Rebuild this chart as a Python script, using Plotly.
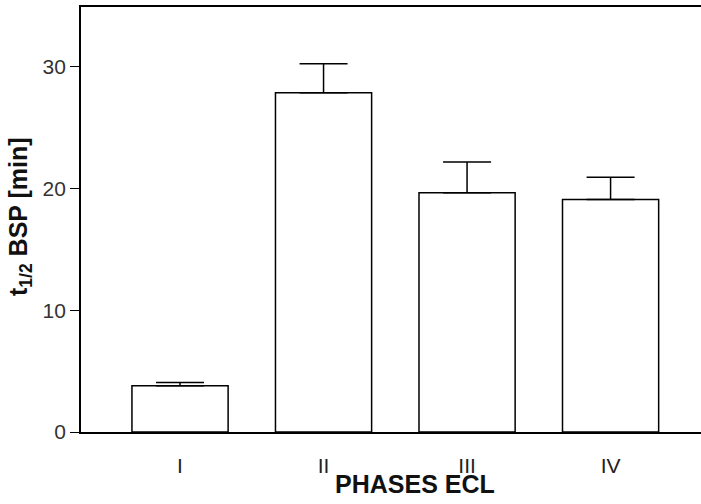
import plotly.graph_objects as go

phases = ["I", "II", "III", "IV"]
t_half = [3.8, 27.85, 19.65, 19.1]
err_up = [0.27, 2.38, 2.52, 1.82]
y_ticks = [0, 10, 20, 30]

W, H = 701, 504
ML, MR, MT, MB = 81, 0, 7, 72
pw = W - ML - MR
ph = H - MT - MB

title_font = dict(family="Liberation Sans, Arial", size=25, color="#111")

fig = go.Figure()
fig.add_trace(go.Bar(
    x=phases, y=t_half, width=0.67,
    marker=dict(color="white", line=dict(color="black", width=1.5)),
    error_y=dict(type="data", symmetric=False, array=err_up,
                 arrayminus=[0] * len(err_up), color="black",
                 thickness=1.5, width=24),
    showlegend=False,
))

fig.update_layout(
    width=W, height=H,
    margin=dict(l=ML, r=MR, t=MT, b=MB, autoexpand=False),
    paper_bgcolor="white", plot_bgcolor="white",
    font=dict(family="Liberation Sans, Arial", color="#222"),
    xaxis=dict(
        type="category", range=[-0.69, 3.63],
        showline=True, linecolor="black", linewidth=1.8, mirror=True,
        showgrid=False, ticks="", ticklabelstandoff=14,
        tickfont=dict(size=21, color="#222"),
        zeroline=False,
    ),
    yaxis=dict(
        range=[0, 34.9], tickvals=y_ticks,
        showline=True, linecolor="black", linewidth=1.8,
        showgrid=False, zeroline=False,
        ticks="outside", ticklen=9, tickwidth=1.2, tickcolor="black",
        tickfont=dict(size=21, color="#333"),
    ),
    annotations=[
        dict(text="<b>t<sub>1/2</sub> BSP [min]</b>", textangle=-90,
             xref="paper", yref="paper",
             x=(20 - ML) / pw, y=(H - MB - 217) / ph,
             xanchor="center", yanchor="middle", showarrow=False,
             font=dict(title_font)),
        dict(text="<b>PHASES ECL</b>",
             xref="paper", yref="paper",
             x=(414.5 - ML) / pw, y=(H - MB - 484) / ph,
             xanchor="center", yanchor="middle", showarrow=False,
             font=dict(title_font)),
    ],
)

fig.write_html("out.html")
